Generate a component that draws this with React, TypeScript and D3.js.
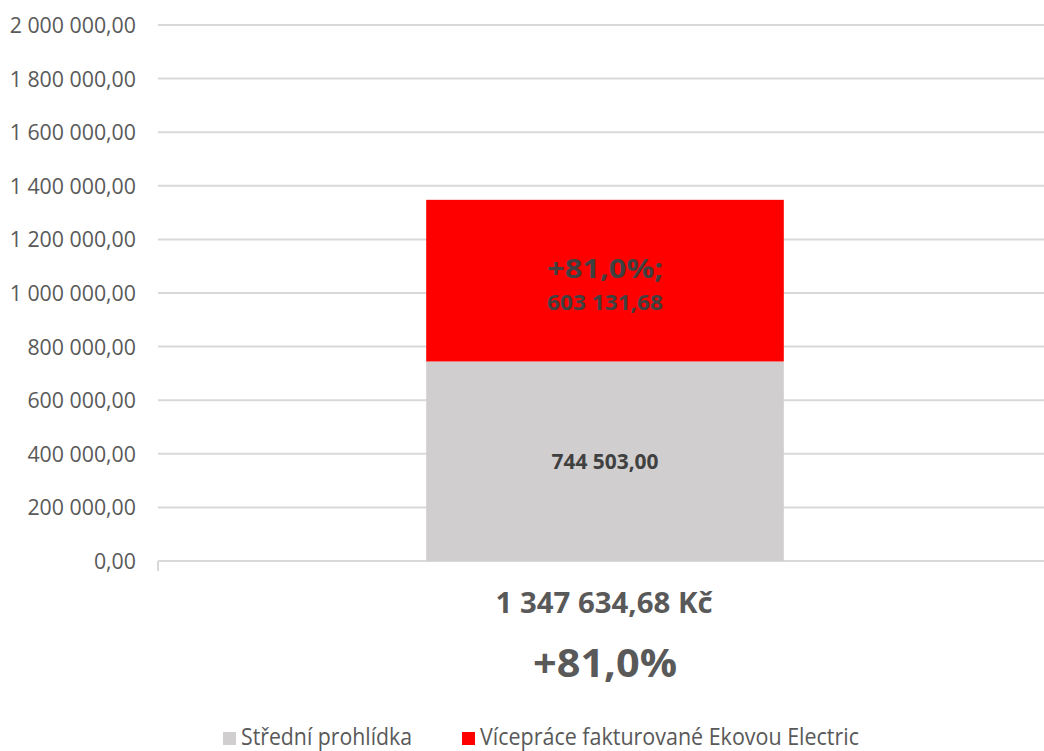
import React from "react";
import * as d3 from "d3";

const categories = ["1 347 634,68 Kč"];
const seriesNames = ["Střední prohlídka", "Vícepráce fakturované Ekovou Electric"];
const seriesColors = ["#d0cece", "#ff0000"];
const baseValues = [744503.0];
const extraValues = [603131.68];
const extraPercent = ["+81,0%"];
const yTicks = [0, 200000, 400000, 600000, 800000, 1000000, 1200000, 1400000, 1600000, 1800000, 2000000];

const W = 1044;
const H = 751;
const FONT = "'Open Sans', 'Noto Sans', sans-serif";

const fmt = (v: number) => {
  const [i, d] = v.toFixed(2).split(".");
  return i.replace(/\B(?=(\d{3})+(?!\d))/g, " ") + "," + d;
};

export default function App() {
  const left = 158, right = 1052, top = 25, bottom = 561;
  const y = d3.scaleLinear().domain([0, 2000000]).range([bottom, top]);
  const x = d3.scaleBand().domain(categories).range([left, right]).paddingInner(0.6).paddingOuter(0.3);
  const stack = d3.stack<number>().keys(["0", "1"]).value((i, k) => (k === "0" ? baseValues[i] : extraValues[i]));
  const layers = stack(categories.map((_, i) => i));
  const textColor = "#595959";
  const labelColor = "#404040";
  const legendX = [223, 462];
  const legendW = [171, 379];
  return (
    <svg width={W} height={H} style={{ position: "absolute", left: 0, top: 0 }} fontFamily={FONT}>
      {yTicks.map((t) => (
        <g key={t}>
          <line x1={left} x2={right} y1={y(t)} y2={y(t)} stroke="#d9d9d9" strokeWidth={2} />
          <g transform={`translate(136,${y(t)}) scale(0.97,1)`}>
            <text x={0} y={0} dy="0.36em" textAnchor="end" fontSize={22} fill={textColor}>
              {fmt(t)}
            </text>
          </g>
        </g>
      ))}
      {layers.map((layer, li) =>
        layer.map((d, i) => {
          const cat = categories[i];
          return (
            <rect key={li + "-" + i} x={x(cat)} width={x.bandwidth()} y={y(d[1])} height={y(d[0]) - y(d[1])} fill={seriesColors[li]} />
          );
        })
      )}
      <line x1={left} x2={left} y1={bottom} y2={bottom + 10} stroke="#d9d9d9" strokeWidth={2} />
      {categories.map((c, i) => {
        const cx = (x(c) as number) + x.bandwidth() / 2;
        const midBase = (y(0) + y(baseValues[i])) / 2;
        const midExtra = (y(baseValues[i]) + y(baseValues[i] + extraValues[i])) / 2;
        return (
          <g key={c}>
            <text x={cx} y={midBase + 8} textAnchor="middle" fontSize={21} fontWeight="bold" fill={labelColor} textLength={107} lengthAdjust="spacingAndGlyphs">
              {fmt(baseValues[i])}
            </text>
            <text x={cx} y={midExtra - 3} textAnchor="middle" fontSize={27} fontWeight="bold" fill={labelColor} textLength={116} lengthAdjust="spacingAndGlyphs">
              {extraPercent[i] + ";"}
            </text>
            <text x={cx} y={midExtra + 29} textAnchor="middle" fontSize={21} fontWeight="bold" fill={labelColor} textLength={116} lengthAdjust="spacingAndGlyphs">
              {fmt(extraValues[i])}
            </text>
            <text x={cx - 1} y={613} textAnchor="middle" fontSize={28} fontWeight="bold" fill={textColor} textLength={217} lengthAdjust="spacingAndGlyphs">
              {c}
            </text>
            <text x={cx} y={677} textAnchor="middle" fontSize={40} fontWeight="bold" fill={textColor} textLength={144} lengthAdjust="spacingAndGlyphs">
              {extraPercent[i]}
            </text>
          </g>
        );
      })}
      {seriesNames.map((s, i) => (
        <g key={s}>
          <rect x={legendX[i]} y={732} width={13} height={13} fill={seriesColors[i]} />
          <text x={legendX[i] + 18} y={745} fontSize={23} fill={textColor} textLength={legendW[i]} lengthAdjust="spacingAndGlyphs">
            {s}
          </text>
        </g>
      ))}
    </svg>
  );
}
